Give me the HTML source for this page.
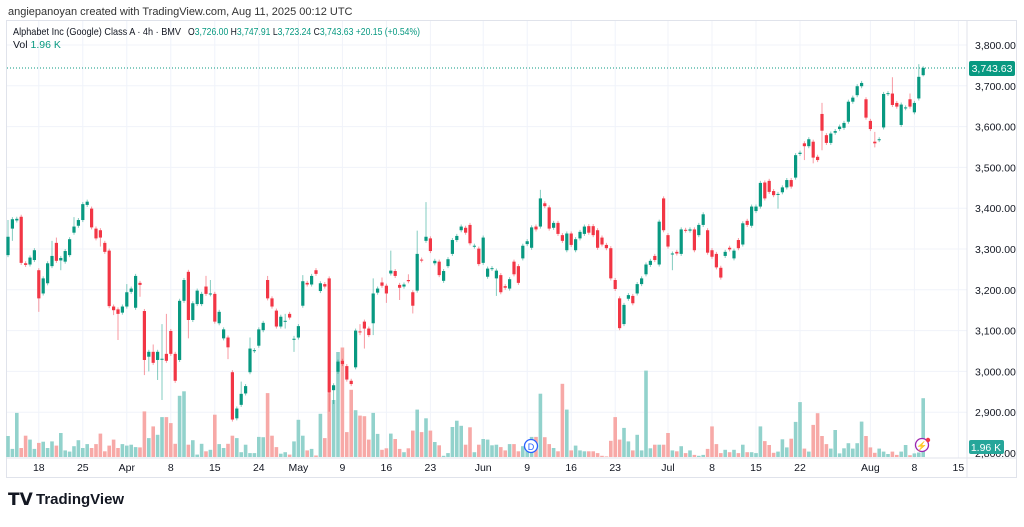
<!DOCTYPE html>
<html><head><meta charset="utf-8"><style>
body{margin:0;background:#fff;width:1024px;height:522px;overflow:hidden;font-family:"Liberation Sans",sans-serif}
svg text{font-family:"Liberation Sans",sans-serif}
</style></head><body>
<svg id="chart" width="1024" height="522" xmlns="http://www.w3.org/2000/svg">
<rect x="0" y="0" width="1024" height="522" fill="#fff"/>
<text x="8" y="15" font-size="11" fill="#333">angiepanoyan created with TradingView.com, Aug 11, 2025 00:12 UTC</text>
<rect x="6.5" y="20.5" width="1010" height="457" fill="none" stroke="#e0e3eb"/>
<g id="grid"></g>
<g id="vol"></g>
<g id="candles"></g>
<line x1="7" x2="967" y1="68" y2="68" stroke="#089981" stroke-dasharray="1,2"/>
<g font-size="10.5">
<text x="13" y="35" fill="#131722" textLength="168" lengthAdjust="spacingAndGlyphs">Alphabet Inc (Google) Class A · 4h · BMV</text>
<text x="188" y="35" fill="#131722" textLength="232" lengthAdjust="spacingAndGlyphs">O<tspan fill="#089981">3,726.00</tspan>  H<tspan fill="#089981">3,747.91</tspan>  L<tspan fill="#089981">3,723.24</tspan>  C<tspan fill="#089981">3,743.63</tspan>  <tspan fill="#089981">+20.15 (+0.54%)</tspan></text>
<text x="13" y="48" fill="#131722">Vol  <tspan fill="#089981">1.96 K</tspan></text>
</g>
<g id="yaxis" font-size="10.5" fill="#131722"></g>
<g id="xaxis" font-size="10.5" fill="#131722"></g>
<rect x="969" y="61" width="46" height="15" rx="2" fill="#089981"/>
<text x="992" y="72" font-size="10.5" fill="#fff" text-anchor="middle">3,743.63</text>
<rect x="969" y="440" width="35" height="14" rx="2" fill="#26a69a"/>
<text x="986" y="451" font-size="10.5" fill="#fff" text-anchor="middle">1.96 K</text>
<g><circle cx="531" cy="446" r="6.5" fill="#fff" stroke="#2962ff" stroke-width="1.3"/><text x="531" y="450" font-size="9" fill="#2962ff" text-anchor="middle">D</text></g>
<g><circle cx="922" cy="445" r="6.5" fill="#fff" stroke="#9c27b0" stroke-width="1.3"/><text x="922" y="449" font-size="9" fill="#9c27b0" text-anchor="middle">⚡</text><circle cx="928" cy="440" r="2.2" fill="#f23645"/></g>
<g>
<text x="8" y="505" font-size="17" font-weight="bold" fill="#131722">𝗧𝗩</text>
<text x="36" y="504" font-size="15" font-weight="bold" fill="#131722">TradingView</text>
</g>
</svg>
<script>
const opens=[3285,3350,3370,3379,3265,3262,3273,3248,3191,3216,3258,3315,3272,3269,3285,3340,3357,3371,3408,3399,3350,3346,3315,3296,3159,3152,3144,3159,3195,3156,3217,3148,3036,3048,3028,3029,3043,3099,3043,3028,3173,3244,3126,3165,3165,3208,3189,3190,3118,3081,3083,2998,2885,2918,2946,2998,3050,3063,3101,3224,3179,3149,3110,3122,3141,3078,3083,3161,3217,3213,3248,3197,3214,3228,2954,2999,3026,3013,2977,3010,3098,3122,3105,3118,3193,3218,3210,3240,3246,3212,3208,3224,3194,3198,3274,3320,3326,3265,3269,3222,3258,3288,3322,3346,3352,3359,3306,3301,3266,3232,3251,3228,3236,3209,3203,3269,3258,3277,3312,3303,3355,3355,3412,3402,3352,3364,3334,3297,3338,3297,3326,3337,3356,3356,3346,3328,3310,3302,3224,3179,3116,3178,3185,3191,3214,3238,3261,3283,3262,3424,3334,3287,3293,3288,3347,3345,3348,3334,3359,3346,3297,3288,3254,3283,3303,3277,3322,3311,3369,3357,3393,3404,3463,3467,3442,3433,3439,3451,3469,3475,3533,3559,3552,3563,3526,3631,3579,3560,3585,3594,3597,3612,3661,3677,3699,3667,3614,3563,3567,3598,3680,3681,3658,3604,3645,3667,3635,3669,3726];
const closes=[3330,3373,3374,3266,3261,3279,3297,3179,3228,3265,3283,3271,3278,3295,3324,3355,3371,3410,3416,3353,3326,3328,3293,3160,3150,3141,3159,3194,3203,3234,3212,3028,3048,3021,3048,3031,3026,3043,2977,3173,3224,3126,3167,3198,3190,3190,3191,3122,3146,3103,3059,2882,2909,2945,2964,3056,3052,3103,3119,3179,3159,3110,3134,3124,3132,3080,3111,3221,3213,3234,3239,3216,3208,2948,2966,3024,3018,2980,2969,3100,3096,3105,3089,3191,3203,3210,3191,3247,3234,3205,3213,3221,3161,3288,3272,3330,3295,3271,3236,3246,3275,3322,3332,3355,3340,3314,3308,3263,3328,3252,3253,3247,3194,3205,3226,3238,3217,3308,3319,3353,3348,3424,3405,3350,3364,3337,3320,3338,3310,3324,3342,3355,3340,3334,3303,3311,3302,3228,3202,3106,3163,3187,3167,3214,3228,3262,3271,3273,3367,3346,3306,3289,3289,3348,3345,3348,3297,3359,3385,3291,3281,3255,3230,3293,3299,3296,3302,3363,3359,3404,3404,3462,3424,3440,3432,3435,3451,3469,3453,3530,3536,3552,3569,3524,3518,3590,3560,3583,3589,3600,3609,3661,3671,3699,3707,3622,3594,3559,3569,3680,3682,3653,3649,3654,3647,3649,3658,3722,3744];
const wickHighs={0:3371,10:3320,11:3328,15:3378,27:3214,33:3066,35:3116,36:3141,45:3234,46:3224,53:2975,55:3083,59:3234,63:3141,65:3087,67:3236,80:3116,83:3228,85:3230,87:3296,91:3238,93:3345,95:3415,121:3445,185:3658,197:3587,201:3721,205:3681,207:3753,208:3748};
const wickLows={1:3320,7:3146,12:3248,21:3306,24:3138,25:3077,30:3183,31:2991,32:3000,34:2979,35:2930,41:3081,50:3030,63:3105,65:3048,73:2901,74:2920,80:3089,81:3056,83:3089,86:3168,89:3175,92:3142,111:3185,151:3248,175:3399,181:3518,183:3510,185:3542,197:3549,208:3723};
const volumes=[0.7,0.27,1.47,0.3,0.71,0.58,0.27,0.47,0.51,0.3,0.52,0.38,0.8,0.22,0.18,0.36,0.56,0.3,0.43,0.3,0.43,0.78,0.19,0.38,0.58,0.3,0.43,0.38,0.41,0.33,0.32,1.52,0.63,1.02,0.74,
1.33,1.33,1.13,0.44,2.04,2.19,0.41,0.56,0.08,0.44,0.19,0.24,1.41,0.43,0.3,0.44,0.71,0.63,0.16,0.41,0.13,0.13,0.67,0.66,2.13,0.71,0.33,0.11,0.16,0.08,0.52,1.24,
0.71,0.22,0.27,0.05,1.44,0.63,2.13,1.9,3.5,3.65,0.83,2.24,1.56,1.38,1.36,0.58,1.47,0.77,0.24,0.29,0.78,0.6,0.27,0.16,0.29,0.88,1.58,0.83,1.29,0.88,0.5,0.39,0.04,0.13,1.0,1.21,
1.04,0.41,0.99,0.16,0.41,0.6,0.58,0.39,0.41,0.33,0.22,0.43,0.43,0.19,0.36,0.47,0.67,0.67,2.11,0.66,0.43,0.3,0.19,2.44,1.58,0.22,0.38,0.22,0.19,0.19,0.19,0.13,0.04,0.02,0.54,
1.33,0.58,0.97,0.52,0.22,0.74,0.22,2.88,0.29,0.41,0.41,0.41,0.8,0.22,0.19,0.36,0.13,0.22,0.07,0.04,0.07,0.27,1.02,0.43,0.13,0.24,0.16,0.24,0.13,0.41,0.16,0.16,0.13,1.02,
0.53,0.4,0.14,0.18,0.59,0.32,0.61,1.17,1.83,0.28,0.18,1.07,1.46,0.7,0.43,0.28,0.9,0.12,0.29,0.46,0.28,0.46,1.18,0.7,0.32,0.14,0.28,0.18,0.1,0.18,0.07,0.18,0.4,0.06,0.12,0.15,1.96];
const priceTicks=[3800,3700,3600,3500,3400,3300,3200,3100,3000,2900];
const dateLabels=["18","25","Apr","8","15","24","May","9","16","23","Jun","9","16","23","Jul","8","15","22","Aug","8","15"];
const dateBarIdx=[7,17,27,37,47,57,66,76,86,96,108,118,128,138,150,160,170,180,196,206,216];

const NS="http://www.w3.org/2000/svg";
const X0=8,STEP=4.4,PLOT_R=967;
function xScale(i){return X0+i*STEP;}
function yScale(p){return 45+(3800-p)*0.408;}
function vScale(v){return 457-v*30;}
function mk(tag,attrs,parent){const e=document.createElementNS(NS,tag);for(const k in attrs)e.setAttribute(k,attrs[k]);parent.appendChild(e);return e;}
const grid=document.getElementById('grid'),yaxis=document.getElementById('yaxis'),xaxis=document.getElementById('xaxis');
const fmt=p=>p.toLocaleString('en-US',{minimumFractionDigits:2});
priceTicks.forEach(p=>{
  const y=yScale(p);
  const l=mk('line',{x1:7,x2:PLOT_R,y1:y,y2:y,stroke:'#f0f3fa'},grid);
  
  
  const t=mk('text',{x:975,y:y+4},yaxis);
  t.textContent=fmt(p);
  
  
});
{const t=mk('text',{x:975,y:yScale(2800)+4},yaxis);t.textContent=fmt(2800);

}
dateLabels.forEach((d,k)=>{
  const x=xScale(dateBarIdx[k]);
  const l=mk('line',{x1:x,x2:x,y1:21,y2:458,stroke:'#f0f3fa'},grid);
  
  
  const t=mk('text',{x:x,y:471,'text-anchor':'middle'},xaxis);
  t.textContent=d;
  
  
});
mk('line',{x1:PLOT_R,x2:PLOT_R,y1:21,y2:477,stroke:'#e0e3eb'},grid);
mk('line',{x1:7,x2:1016,y1:458,y2:458,stroke:'#e0e3eb'},grid);
const vg=document.getElementById('vol'),cg=document.getElementById('candles');
for(let i=0;i<opens.length;i++){
  const o=opens[i],c=closes[i],up=c>=o,x=xScale(i);
  const vy=vScale(volumes[i]);
  const vb=mk('rect',{x:x-1.8,y:vy,width:3.6,height:457-vy,fill:up?'#92d2cc':'#f7a9a7'},vg);
  
  
  const hi=wickHighs[i]!==undefined?wickHighs[i]:Math.max(o,c)+5;
  const lo=wickLows[i]!==undefined?wickLows[i]:Math.min(o,c)-5;
  const col=up?'#089981':'#f23645';
  const w=mk('line',{x1:x,x2:x,y1:yScale(hi),y2:yScale(lo),stroke:col,'stroke-opacity':0.5},cg);
  
  
  const yt=yScale(Math.max(o,c)),yb=yScale(Math.min(o,c));
  const b=mk('rect',{x:x-1.6,y:yt,width:3.2,height:Math.max(1,yb-yt),fill:col},cg);
  
  
}
</script>
</body></html>
